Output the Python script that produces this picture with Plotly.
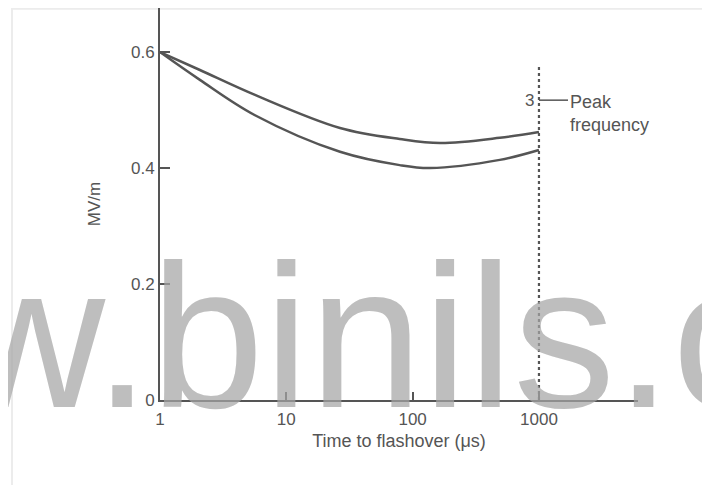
import math
import plotly.graph_objects as go

# ---- data ----
time_upper = [1, 2.07, 5.65, 26.6, 79, 165, 490, 1000]
field_upper = [0.600, 0.569, 0.526, 0.469, 0.450, 0.443, 0.452, 0.462]
time_lower = [1, 2.07, 5.65, 26.6, 79, 137, 490, 1000]
field_lower = [0.600, 0.552, 0.491, 0.428, 0.405, 0.400, 0.414, 0.431]

x_tick_vals = [1, 10, 100, 1000]
x_tick_text = ["1", "10", "100", "1000"]
y_tick_vals = [0, 0.2, 0.4, 0.6]
y_tick_text = ["0", "0.2", "0.4", "0.6"]

peak_time = 1000
peak_line_top = 0.574
peak_label_value = 0.517
peak_label_end = 1698

x_title = "Time to flashover (μs)"
y_title = "MV/m"
watermark = "www.binils.com"

INK = "#555555"
FONT = "Liberation Sans, Arial, sans-serif"

fig = go.Figure()
for xs, ys in [(time_upper, field_upper), (time_lower, field_lower)]:
    fig.add_trace(go.Scatter(x=xs, y=ys, mode="lines",
                             line=dict(color=INK, width=2.5, shape="spline", smoothing=1.0),
                             showlegend=False, hoverinfo="skip"))

# dashed peak-frequency line
fig.add_trace(go.Scatter(x=[peak_time, peak_time], y=[0, peak_line_top], mode="lines",
                         line=dict(color=INK, width=2.2, dash="dot"),
                         showlegend=False, hoverinfo="skip"))
# leader line to label
fig.add_trace(go.Scatter(x=[peak_time, peak_label_end], y=[peak_label_value, peak_label_value],
                         mode="lines", line=dict(color=INK, width=1.5),
                         showlegend=False, hoverinfo="skip"))

# the page body has an 8px margin, so the figure is 8px smaller than the window
fig.update_layout(
    width=702, height=477,
    margin=dict(l=152, r=72, t=0, b=85),
    paper_bgcolor="white", plot_bgcolor="white",
    font=dict(family=FONT, color=INK, size=17),
    xaxis=dict(type="log", range=[0, 3.784], showgrid=False, zeroline=False,
               showline=True, linecolor=INK, linewidth=2,
               tickvals=x_tick_vals, ticktext=x_tick_text,
               ticks="inside", ticklen=8, tickcolor=INK, tickwidth=1.5,
               ticklabelstandoff=3,
               tickfont=dict(size=17, color=INK),
               title=dict(text=x_title, font=dict(size=18, color=INK), standoff=6)),
    yaxis=dict(range=[0, 0.6759], showgrid=False, zeroline=False,
               showline=True, linecolor=INK, linewidth=2,
               tickvals=y_tick_vals, ticktext=y_tick_text,
               ticks="inside", ticklen=10, tickcolor=INK, tickwidth=1.5,
               tickfont=dict(size=17, color=INK),
               title=dict(text=y_title, font=dict(size=17, color=INK), standoff=26)),
)

fig.add_annotation(x=math.log10(peak_time), y=peak_label_value, xref="x", yref="y",
                   text="3", showarrow=False, xanchor="right", xshift=-3,
                   font=dict(size=17, color=INK))
fig.add_annotation(x=math.log10(peak_label_end), y=peak_label_value, xref="x", yref="y",
                   text="Peak<br>frequency", showarrow=False, xanchor="left", yanchor="top",
                   align="left", yshift=10, xshift=0,
                   font=dict(size=18, color=INK))

# watermark
fig.add_annotation(x=0.4165, y=0.162, xref="paper", yref="paper", text=watermark,
                   showarrow=False, xanchor="center", yanchor="middle",
                   font=dict(family=FONT, size=204, color="rgba(165,165,165,0.72)"))

# faint scan frame
fig.add_shape(type="rect", xref="paper", yref="paper", x0=-0.3096, x1=1.3, y0=-0.5, y1=0.998,
              line=dict(color="#ececec", width=2), layer="below")

fig.write_html("out.html")
